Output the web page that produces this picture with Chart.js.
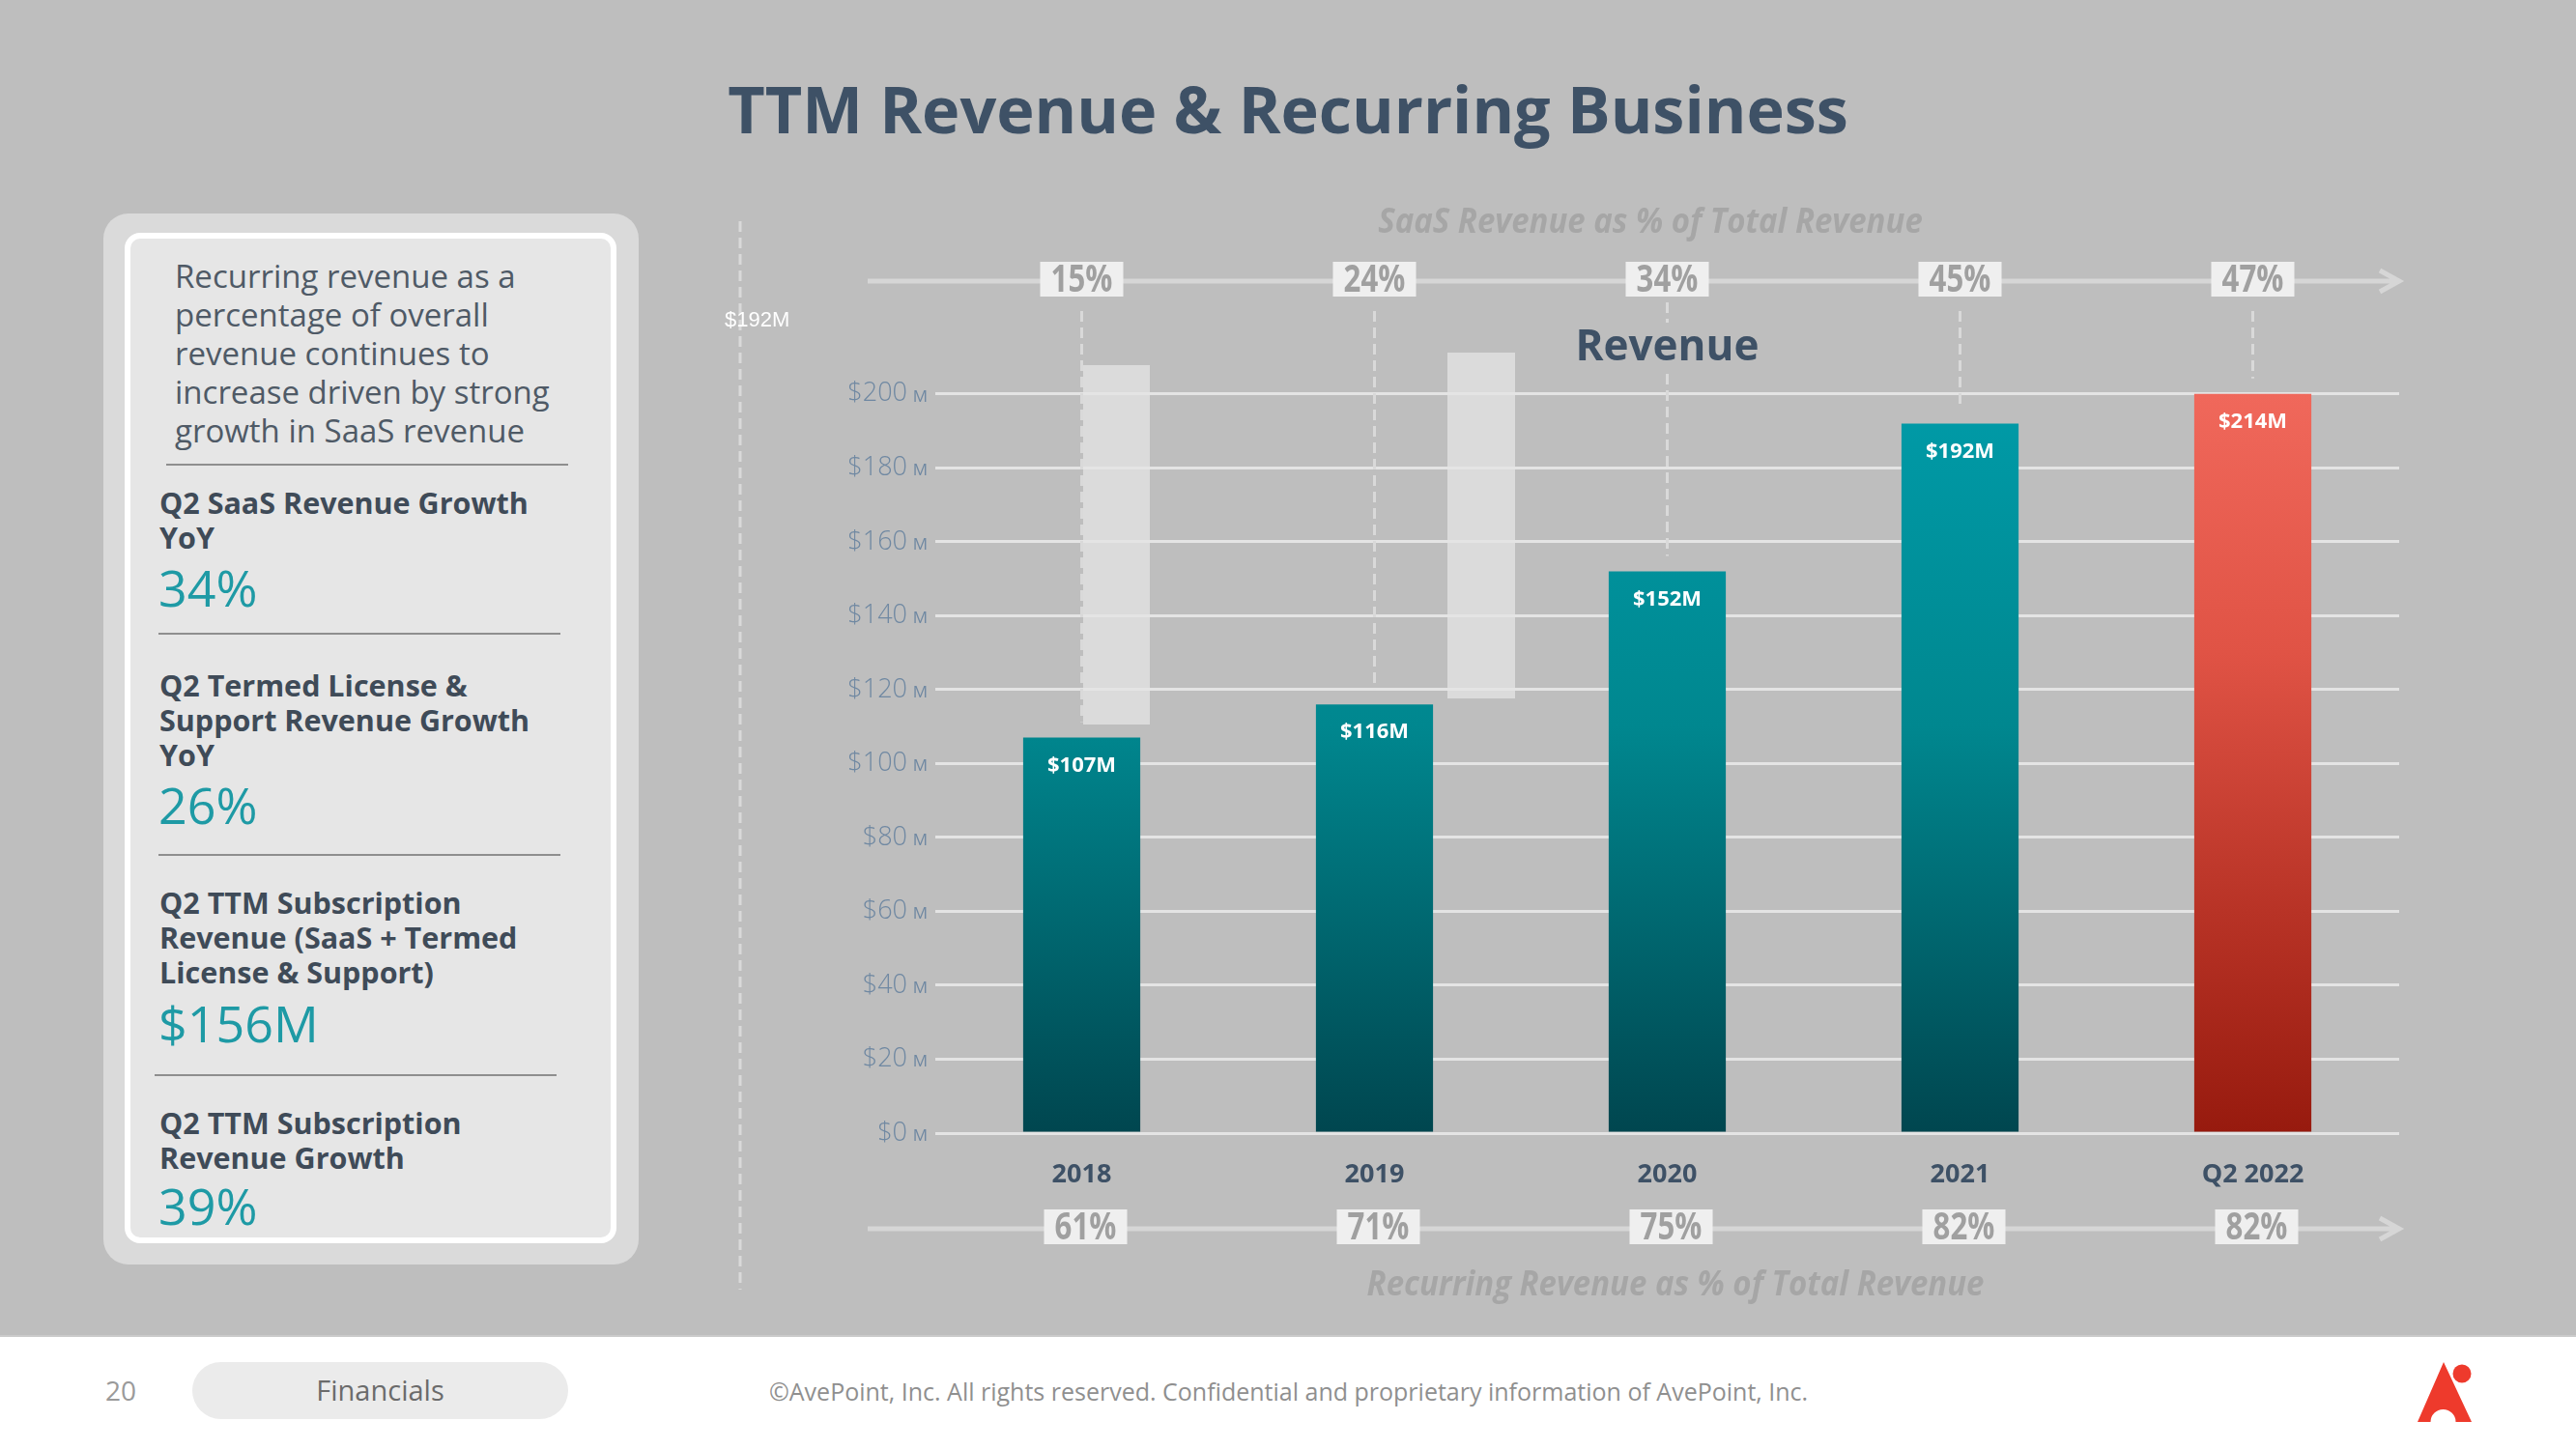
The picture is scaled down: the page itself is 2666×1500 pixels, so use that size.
<!DOCTYPE html>
<html>
<head>
<meta charset="utf-8">
<title>TTM Revenue & Recurring Business</title>
<script src="https://cdn.jsdelivr.net/npm/chart.js@4.4.0/dist/chart.umd.min.js"></script>
<style>
html, body { margin: 0; padding: 0; }
body { width: 2666px; height: 1500px; position: relative; overflow: hidden; background: #bebebe; font-family: "Open Sans", sans-serif; }
.abs { position: absolute; white-space: nowrap; }
#myChart { position: absolute; left: 0; top: 0; }
#title { left: 0; width: 2666px; top: 72px; line-height: 80px; font-size: 66.5px; font-weight: 700; color: #3e5166; text-align: center; }
.panel { left: 107px; top: 221px; width: 554px; height: 1088px; background: #dadada; border-radius: 26px; }
.inner { left: 129px; top: 241px; width: 497px; height: 1034px; background: #e6e6e6; border: 6px solid #ffffff; border-radius: 16px; }
.para { left: 181px; top: 266px; font-size: 33px; line-height: 40px; color: #4f5a66; }
.head { left: 165px; font-size: 30.5px; line-height: 36px; font-weight: 700; color: #3f4b58; }
.val { left: 164px; font-size: 52px; line-height: 60px; color: #1e9aa5; }
.rule { height: 2px; background: #8e8e8e; }
.cap { font-size: 36px; line-height: 40px; font-weight: 700; font-style: italic; color: #a6a6a6; transform: translateX(-50%) scaleX(0.915); }
.ghost { background: rgba(228,228,228,0.75); }
#footer { left: 0; top: 1382px; width: 2666px; height: 118px; background: #ffffff; border-top: 2px solid #cacaca; box-sizing: border-box; }
</style>
</head>
<body>
<canvas id="myChart" width="2666" height="1382"></canvas>

<div class="abs" id="title">TTM Revenue &amp; Recurring Business</div>

<div class="abs panel"></div>
<div class="abs inner"></div>
<div class="abs para">Recurring revenue as a<br>percentage of overall<br>revenue continues to<br>increase driven by strong<br>growth in SaaS revenue</div>
<div class="abs rule" style="left:172px;top:480px;width:416px;"></div>
<div class="abs head" style="top:502px;">Q2 SaaS Revenue Growth<br>YoY</div>
<div class="abs val" style="top:578px;">34%</div>
<div class="abs rule" style="left:164px;top:655px;width:416px;"></div>
<div class="abs head" style="top:691px;">Q2 Termed License &amp;<br>Support Revenue Growth<br>YoY</div>
<div class="abs val" style="top:803px;">26%</div>
<div class="abs rule" style="left:164px;top:884px;width:416px;"></div>
<div class="abs head" style="top:916px;">Q2 TTM Subscription<br>Revenue (SaaS + Termed<br>License &amp; Support)</div>
<div class="abs val" style="top:1029px;">$156M</div>
<div class="abs rule" style="left:160px;top:1112px;width:416px;"></div>
<div class="abs head" style="top:1144px;">Q2 TTM Subscription<br>Revenue Growth</div>
<div class="abs val" style="top:1218px;">39%</div>

<div class="abs cap" style="left:1708px;top:208px;">SaaS Revenue as % of Total Revenue</div>
<div class="abs cap" style="left:1734px;top:1308px;">Recurring Revenue as % of Total Revenue</div>
<div class="abs" style="left:750px;top:319px;font-family:'Liberation Sans',Arial,sans-serif;font-size:22px;line-height:24px;color:#ffffff;">$192M</div>

<div class="abs ghost" style="left:1121px;top:378px;width:69px;height:372px;"></div>
<div class="abs ghost" style="left:1498px;top:365px;width:70px;height:358px;"></div>

<div class="abs" id="footer"></div>
<div class="abs" style="left:109px;top:1419px;font-size:28px;line-height:40px;color:#9a9a9a;">20</div>
<div class="abs" style="left:199px;top:1410px;width:389px;height:59px;border-radius:30px;background:#ebebeb;"></div>
<div class="abs" style="left:199px;top:1419px;width:389px;text-align:center;font-size:29px;line-height:40px;color:#6b6b6b;">Financials</div>
<div class="abs" style="left:796px;top:1421px;font-size:25px;line-height:38px;color:#8f8f8f;">©AvePoint, Inc. All rights reserved. Confidential and proprietary information of AvePoint, Inc.</div>
<svg class="abs" style="left:2480px;top:1390px;" width="100" height="100" viewBox="0 0 100 100">
  <path d="M49 20 L22 82 L35.5 82 A13 13 0 0 1 61.5 82 L78 82 Z" fill="#ee3a2c"/>
  <circle cx="68" cy="32" r="9.5" fill="#ee3a2c"/>
</svg>

<script>
var categories = ["2018", "2019", "2020", "2021", "Q2 2022"];
var revenue = [107, 116, 152, 192, 214];
var saasPct = [15, 24, 34, 45, 47];
var recurringPct = [61, 71, 75, 82, 82];
var yTicks = [0, 20, 40, 60, 80, 100, 120, 140, 160, 180, 200];

var lineGrey = "#d6d6d6";
var tickBlue = "#6f88a2";

function barColor(c) {
  var chart = c.chart;
  var area = chart.chartArea;
  if (!area) return "#008a95";
  var g = chart.ctx.createLinearGradient(0, area.top, 0, area.bottom);
  if (c.dataIndex == revenue.length - 1) {
    g.addColorStop(0, "#f0685b");
    g.addColorStop(0.35, "#e05345");
    g.addColorStop(0.7, "#b83326");
    g.addColorStop(1, "#971a0e");
  } else {
    g.addColorStop(0, "#009ba8");
    g.addColorStop(0.45, "#00878f");
    g.addColorStop(1, "#00464f");
  }
  return g;
}

// draws condensed looking text
function narrowText(ctx, txt, x, y, sx) {
  ctx.save();
  ctx.translate(x, y);
  ctx.scale(sx, 1);
  ctx.fillText(txt, 0, 0);
  ctx.restore();
}

function arrowLine(ctx, x1, x2, y) {
  ctx.save();
  ctx.strokeStyle = lineGrey;
  ctx.lineWidth = 5;
  ctx.beginPath();
  ctx.moveTo(x1, y);
  ctx.lineTo(x2, y);
  ctx.moveTo(x2 - 20, y - 11);
  ctx.lineTo(x2, y);
  ctx.lineTo(x2 - 20, y + 11);
  ctx.stroke();
  ctx.restore();
}

function pctBox(ctx, txt, x, y) {
  ctx.save();
  ctx.fillStyle = "#efefef";
  ctx.fillRect(x - 43, y - 18, 86, 36);
  ctx.fillStyle = "#a0a0a0";
  ctx.font = "700 39px 'Open Sans'";
  ctx.textAlign = "center";
  ctx.textBaseline = "middle";
  narrowText(ctx, txt, x, y + 2, 0.8);
  ctx.restore();
}

var decor = {
  id: "decor",
  beforeDatasetsDraw: function(chart) {
    var ctx = chart.ctx, area = chart.chartArea;
    var meta = chart.getDatasetMeta(0);
    var tb = chart.titleBlock;
    ctx.save();
    // left dashed guide
    ctx.strokeStyle = "#d9d9d9";
    ctx.lineWidth = 3;
    ctx.setLineDash([11, 6]);
    ctx.beginPath();
    ctx.moveTo(766, 229);
    ctx.lineTo(766, 1335);
    ctx.stroke();
    // dashed drops from the SaaS % boxes
    ctx.font = "700 44px 'Open Sans'";
    var tw = ctx.measureText("Revenue").width;
    var tc = tb.left + tb.width / 2;
    meta.data.forEach(function(bar) {
      var yEnd = Math.max(bar.y, area.top) - 16;
      ctx.beginPath();
      if (Math.abs(bar.x - tc) < tw / 2 + 10) {
        ctx.moveTo(bar.x, 313);
        ctx.lineTo(bar.x, tb.top);
        ctx.moveTo(bar.x, tb.top + 53);
        ctx.lineTo(bar.x, yEnd);
      } else {
        ctx.moveTo(bar.x, 322);
        ctx.lineTo(bar.x, yEnd);
      }
      ctx.stroke();
    });
    ctx.restore();
  },
  afterDatasetsDraw: function(chart) {
    var ctx = chart.ctx, area = chart.chartArea;
    var meta = chart.getDatasetMeta(0);
    ctx.save();
    ctx.fillStyle = "#ffffff";
    ctx.font = "700 22px 'Open Sans'";
    ctx.textAlign = "center";
    ctx.textBaseline = "middle";
    meta.data.forEach(function(bar, i) {
      var top = Math.max(bar.y, area.top);
      ctx.fillText("$" + revenue[i] + "M", bar.x, top + 29);
    });
    ctx.restore();
  },
  afterDraw: function(chart) {
    var ctx = chart.ctx, area = chart.chartArea;
    var xs = chart.scales.x, ys = chart.scales.y;
    // small M after the y tick values
    ctx.save();
    ctx.fillStyle = tickBlue;
    ctx.font = "400 17px 'Open Sans'";
    ctx.textAlign = "right";
    ctx.textBaseline = "middle";
    ys.ticks.forEach(function(t) {
      ctx.fillText("M", area.left - 8, ys.getPixelForValue(t.value) + 3);
    });
    ctx.restore();

    arrowLine(ctx, area.left - 70, area.right, 291);
    arrowLine(ctx, area.left - 70, area.right, 1272);
    for (var i = 0; i < categories.length; i++) {
      var x = xs.getPixelForValue(i);
      pctBox(ctx, saasPct[i] + "%", x, 289);
      pctBox(ctx, recurringPct[i] + "%", x + 4, 1270);
    }
  }
};

new Chart("myChart", {
  type: "bar",
  data: {
    labels: categories,
    datasets: [{
      data: revenue,
      backgroundColor: barColor,
      categoryPercentage: 0.8,
      barPercentage: 0.5
    }]
  },
  options: {
    responsive: false,
    animation: false,
    layout: { padding: { left: 768, right: 183, top: 334, bottom: 129 } },
    plugins: {
      legend: { display: false },
      tooltip: { enabled: false },
      title: {
        display: true,
        text: "Revenue",
        fullSize: false,
        color: "#3e5166",
        font: { family: "'Open Sans'", size: 44, weight: "700" },
        padding: { top: 0, bottom: 21 }
      }
    },
    scales: {
      x: {
        grid: { display: false },
        border: { display: false },
        ticks: {
          color: "#3e5166",
          font: { family: "'Open Sans'", size: 27, weight: "700" },
          padding: 19
        },
        afterFit: function(s) { s.height = 80; }
      },
      y: {
        min: 0,
        max: 200,
        afterBuildTicks: function(s) {
          s.ticks = yTicks.map(function(v) { return { value: v }; });
        },
        grid: { color: "#e4e4e4", lineWidth: 3, drawTicks: false },
        border: { display: false },
        ticks: {
          color: tickBlue,
          font: { family: "'Open Sans'", size: 27, weight: "300" },
          padding: 29,
          callback: function(v) { return "$" + v; }
        },
        afterFit: function(s) { s.width = 200; }
      }
    }
  },
  plugins: [decor]
});
</script>
</body>
</html>
